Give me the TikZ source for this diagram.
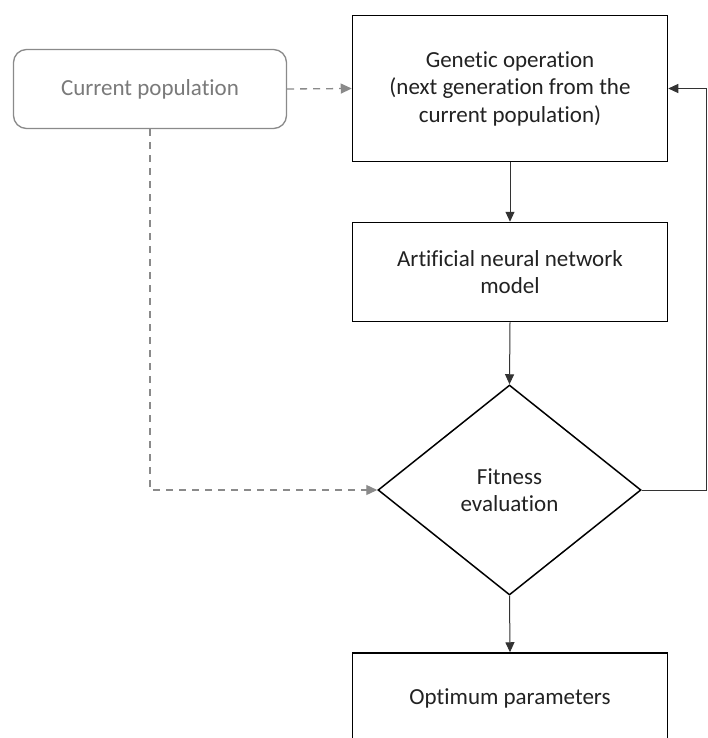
\documentclass[tikz,border=0pt]{standalone}
\usepackage{fontspec}
\setmainfont[Ligatures={NoCommon}]{Carlito}
\usetikzlibrary{shapes.geometric,arrows.meta}
\definecolor{txt}{HTML}{222222}
\definecolor{greyline}{HTML}{8A8A8A}
\definecolor{greytxt}{HTML}{7A7A7A}
\begin{document}
\begin{tikzpicture}[x=1pt,y=-1pt,
  every node/.style={font=\fontsize{23}{27.5}\selectfont, text=txt},
  procbox/.style={draw=black, line width=1.5pt, minimum width=315pt, align=center, inner sep=0pt},
  startbox/.style={draw=greyline, line width=1.3pt, rounded corners=13pt, minimum width=273pt, minimum height=79pt, text=greytxt, inner sep=0pt},
  decbox/.style={draw=black, line width=1.5pt, diamond, aspect=1.25, minimum width=263pt, minimum height=210pt, inner sep=0pt, align=center},
  flow/.style={draw=black!80, line width=1pt, -{Triangle[length=10pt,width=9pt]}},
  dflow/.style={draw=greyline, line width=1.3pt, dash pattern=on 7pt off 6pt, -{Triangle[length=11pt,width=10pt]}}
]
\useasboundingbox[fill=white] (0,0) rectangle (707,738);
\node[startbox] (cur) at (150,89) {Current population};
\node[procbox, minimum height=146pt] (gen) at (510,88.5) {Genetic operation\\(next generation from the\\current population)};
\node[procbox, minimum height=99pt] (ann) at (510,272) {Artificial neural network\\model};
\node[decbox] (fit) at (509.5,490) {Fitness\\evaluation};
\node[procbox, minimum height=90pt] (opt) at (510,698) {Optimum parameters};
\coordinate (loop) at (706,490);
\draw[dflow] (cur.east) -- (gen.west);
\draw[flow] (gen.south) -- (ann.north);
\draw[flow] (ann.south) -- (fit.north);
\draw[flow] (fit.south) -- (opt.north);
\draw[flow] (fit.east) -- (loop) |- (gen.east);
\draw[dflow] (cur.south) |- (fit.west);
\end{tikzpicture}
\end{document}
